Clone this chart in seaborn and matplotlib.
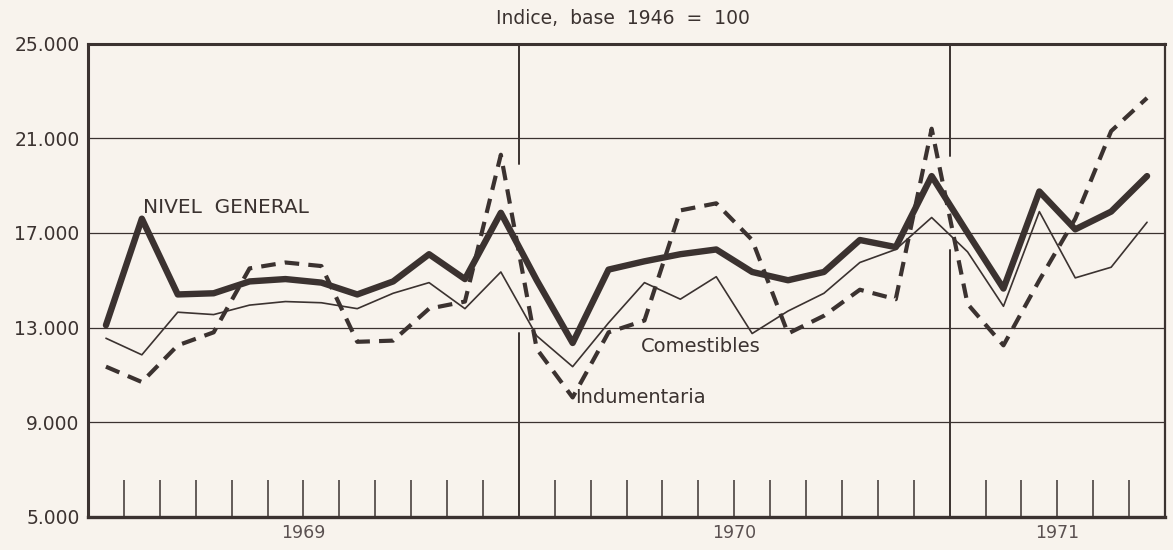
import numpy as np
import pandas as pd
import matplotlib
matplotlib.use("Agg")
import matplotlib.pyplot as plt
import seaborn as sns

# valores mensuales (ene 1969 - jun 1971)
years = ["1969", "1970", "1971"]
months_per_year = [12, 12, 6]

nivel_general = [13100, 17600, 14400, 14450, 14950, 15050, 14900, 14400, 14950, 16100, 15050, 17850,
                 15000, 12350, 15450, 15800, 16100, 16300, 15350, 15000, 15350, 16700, 16400, 19400,
                 17000, 14650, 18750, 17150, 17900, 19400]
comestibles = [12550, 11850, 13650, 13550, 13950, 14100, 14050, 13800, 14450, 14900, 13800, 15350,
               12650, 11350, 13200, 14900, 14200, 15150, 12750, 13700, 14450, 15750, 16300, 17650,
               16200, 13900, 17900, 15100, 15550, 17450]
indumentaria = [11350, 10700, 12250, 12800, 15500, 15750, 15600, 12400, 12450, 13800, 14100, 20300,
                12100, 10050, 12800, 13300, 17950, 18250, 16700, 12750, 13500, 14600, 14200, 21400,
                14000, 12250, 15000, 17600, 21300, 22700]

y_ticks = [5000, 9000, 13000, 17000, 21000, 25000]
y_labels = ["5.000", "9.000", "13.000", "17.000", "21.000", "25.000"]

bg = "#f8f3ed"
ink = "#3b3230"

n = len(nivel_general)
mes = np.arange(n) + 0.5
df = pd.DataFrame({"mes": mes, "nivel": nivel_general, "com": comestibles, "ind": indumentaria})

sns.set_theme(style="white")
plt.rcParams["font.family"] = ["DejaVu Sans"]

fig = plt.figure(figsize=(11.73, 5.5), dpi=100, facecolor=bg)
ax = fig.add_axes([88 / 1173, 33 / 550, 1077 / 1173, 473.5 / 550])
ax.set_facecolor(bg)

# lineas de grilla horizontales
for v in y_ticks[1:-1]:
    ax.axhline(v, color=ink, lw=0.9, zorder=1)

# limites de año
bounds = np.cumsum(months_per_year)[:-1]
ylo, yhi = 5000, 25000
gaps = [(12780, 19900), (16280, 20260)]
for b, (g0, g1) in zip(bounds, gaps):
    ax.axvline(b, ymin=0, ymax=(g0 - ylo) / (yhi - ylo), color=ink, lw=1.4, zorder=1)
    ax.axvline(b, ymin=(g1 - ylo) / (yhi - ylo), ymax=1, color=ink, lw=1.4, zorder=1)

sns.lineplot(data=df, x="mes", y="com", ax=ax, color=ink, lw=1.2, zorder=3)
sns.lineplot(data=df, x="mes", y="ind", ax=ax, color=ink, lw=3.0, zorder=3)
ax.lines[-1].set_dashes((3.5, 2.2))
sns.lineplot(data=df, x="mes", y="nivel", ax=ax, color=ink, lw=4.6, zorder=4)

ax.set_xlim(0, n)
ax.set_ylim(ylo, yhi)
ax.set_yticks(y_ticks)
ax.set_yticklabels(y_labels, fontsize=13.5, color=ink)

starts = np.concatenate([[0], np.cumsum(months_per_year)[:-1]])
centers = [s + m / 2 for s, m in zip(starts, months_per_year)]
ax.xaxis.remove_overlapping_locs = False
ax.set_xticks(centers)
ax.set_xticklabels(years, fontsize=12.5, color="#5a5050")
minor = [i for i in range(1, n) if i not in bounds]
ax.set_xticks(minor, minor=True)
ax.tick_params(axis="x", which="major", length=0, pad=5)
ax.tick_params(axis="x", which="minor", direction="in", length=26.5, width=1.1, color=ink, bottom=True)
ax.tick_params(axis="y", length=0, pad=6)
ax.set_xlabel("")
ax.set_ylabel("")

for side, w in [("left", 2.2), ("top", 2.2), ("bottom", 2.4), ("right", 1.6)]:
    ax.spines[side].set_visible(True)
    ax.spines[side].set_color(ink)
    ax.spines[side].set_linewidth(w)

ax.text(1.53, 18080, "NIVEL  GENERAL", fontsize=14.5, color=ink, ha="left", va="center")
ax.text(15.4, 12200, "Comestibles", fontsize=14, color=ink, ha="left", va="center")
ax.text(13.57, 10040, "Indumentaria", fontsize=14, color=ink, ha="left", va="center")

fig.text(623 / 1173, 1 - 18 / 550, "Indice,  base  1946  =  100", fontsize=13.5, color=ink,
         ha="center", va="center")

fig.savefig("out.png", dpi=100, facecolor=bg)
